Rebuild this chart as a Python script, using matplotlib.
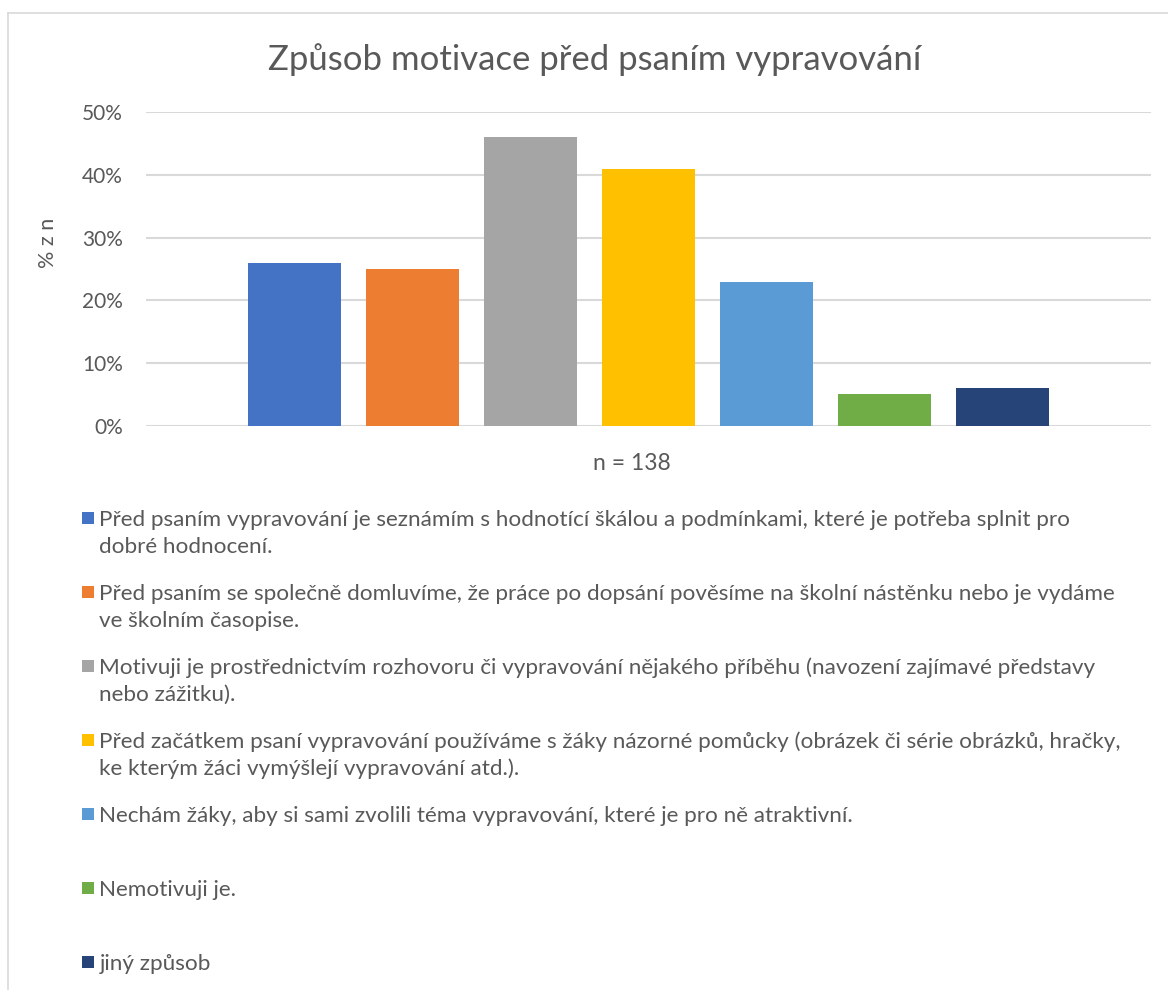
import matplotlib.pyplot as plt
from matplotlib.lines import Line2D
from matplotlib.patches import Rectangle
from matplotlib.ticker import PercentFormatter

labels = [
    'Před psaním vypravování je seznámím s hodnotící škálou a podmínkami, které je potřeba splnit pro\ndobré hodnocení.',
    'Před psaním se společně domluvíme, že práce po dopsání pověsíme na školní nástěnku nebo je vydáme\nve školním časopise.',
    'Motivuji je prostřednictvím rozhovoru či vypravování nějakého příběhu (navození zajímavé představy\nnebo zážitku).',
    'Před začátkem psaní vypravování používáme s žáky názorné pomůcky (obrázek či série obrázků, hračky,\nke kterým žáci vymýšlejí vypravování atd.).',
    'Nechám žáky, aby si sami zvolili téma vypravování, které je pro ně atraktivní.',
    'Nemotivuji je.',
    'jiný způsob',
]
values = [0.26, 0.25, 0.46, 0.41, 0.23, 0.05, 0.06]
colors = ['#4472C4', '#ED7D31', '#A5A5A5', '#FFC000', '#5B9BD5', '#70AD47', '#264478']
title = 'Způsob motivace před psaním vypravování'
xlabel = 'n = 138'
ylabel = '% z n'

plt.rcParams['font.family'] = ['Lato', 'DejaVu Sans']
txt = '#595959'
W, H = 1168, 990


def fx(px):
    return px / W


def fy(py):
    return 1 - py / H


fig = plt.figure(figsize=(W / 100, H / 100), dpi=100)

# chart frame (only top and left edges are visible)
fig.add_artist(Line2D([fx(8), 1], [fy(13), fy(13)], color='#D9D9D9', lw=1.2))
fig.add_artist(Line2D([fx(8), fx(8)], [fy(13), 0], color='#D9D9D9', lw=1.2))

ax = fig.add_axes([fx(146), fy(425.7), fx(1151) - fx(146), (425.7 - 112.3) / H])
ax.bar(range(len(values)), values, width=0.79, color=colors, zorder=2)
ax.set_xlim(-1.26, len(values) - 1 + 1.26)
ax.set_ylim(0, 0.5)
ax.set_yticks([0, 0.1, 0.2, 0.3, 0.4, 0.5])
ax.yaxis.set_major_formatter(PercentFormatter(1.0, decimals=0))
ax.set_xticks([])
ax.yaxis.grid(True, color='#D9D9D9', lw=1.5, zorder=0)
ax.set_axisbelow(True)
for s in ax.spines.values():
    s.set_visible(False)
ax.tick_params(axis='y', length=0, pad=16.5, labelsize=15, labelcolor=txt)

fig.text(fx(595), fy(60), title, ha='center', va='center', fontsize=25, color=txt)
fig.text(fx(48), fy(243), ylabel, rotation=90, ha='center', va='center', fontsize=15.5, color=txt)
fig.text(fx(632), fy(463), xlabel, ha='center', va='center', fontsize=16.5, color=txt)

# legend, Excel style: one slot per entry, square on the first line
for i, (lab, c) in enumerate(zip(labels, colors)):
    yc = 518 + 74 * i
    fig.add_artist(Rectangle((fx(81.7), fy(yc + 6.3)), 12.6 / W, 12.6 / H,
                             facecolor=c, edgecolor='none'))
    for j, line in enumerate(lab.split('\n')):
        fig.text(fx(99.5), fy(yc + 7.5 + 27.5 * j), line, ha='left', va='baseline',
                 fontsize=16.2, color=txt)

fig.savefig('out.png', dpi=100)
